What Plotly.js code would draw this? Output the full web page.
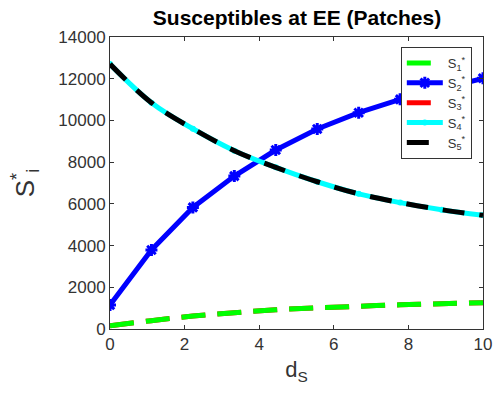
<!DOCTYPE html>
<html><head><meta charset="utf-8">
<script src="https://cdn.plot.ly/plotly-3.0.1.min.js"></script>
<style>body{margin:0;background:#fff}#c{width:495px;height:398px}</style>
</head><body><div id="c"></div>
<script>
const dS = [0, 1.111, 2.222, 3.333, 4.444, 5.556, 6.667, 7.778, 8.889, 10];
const S1 = [150, 400, 620, 780, 920, 1010, 1090, 1160, 1210, 1260];
const S2 = [1150, 3790, 5830, 7330, 8580, 9590, 10370, 11010, 11520, 12020];
const S3 = [150, 400, 620, 780, 920, 1010, 1090, 1160, 1210, 1260];
const S4 = [12700, 10850, 9600, 8550, 7750, 7060, 6480, 6060, 5720, 5450];
const S5 = [12700, 10850, 9600, 8550, 7750, 7060, 6480, 6060, 5720, 5450];
const names = ['S<sub>1</sub><sup>*</sup>','S<sub>2</sub><sup>*</sup>','S<sub>3</sub><sup>*</sup>','S<sub>4</sub><sup>*</sup>','S<sub>5</sub><sup>*</sup>'];
const FONT = 'Liberation Sans, Arial, sans-serif';

const tS1 = {x: dS, y: S1, name: names[0], legendrank: 1, mode: 'lines', line: {color: '#00ff00', width: 5, dash: '24px,12px', shape: 'spline'}};
const tS2 = {x: dS, y: S2, name: names[1], legendrank: 2, mode: 'lines+markers', line: {color: '#0000ff', width: 5},
   marker: {symbol: 'asterisk-open', size: 10, color: '#0000ff', line: {color: '#0000ff', width: 3}}};
const tS3 = {x: dS, y: S3, name: names[2], legendrank: 3, mode: 'lines', line: {color: '#ff0000', width: 5, dash: '24px,12px', shape: 'spline'}};
const tS4 = {x: dS, y: S4, name: names[3], legendrank: 4, mode: 'lines+markers', line: {color: '#00ffff', width: 5, shape: 'spline'},
   marker: {symbol: 'circle', size: 6, color: '#00ffff'}};
const tS5 = {x: dS, y: S5, name: names[4], legendrank: 5, mode: 'lines', line: {color: '#000000', width: 5, dash: '22px,15px', shape: 'spline'}};

const axisCommon = {
  showline: true, mirror: 'ticks', linecolor: '#333', linewidth: 1,
  ticks: 'inside', ticklen: 4, tickcolor: '#333', showgrid: false, zeroline: false,
  automargin: false, ticklabeloverflow: 'allow',
  tickfont: {family: FONT, size: 17, color: '#333'}
};
const layout = {
  width: 495, height: 398,
  margin: {l: 110, r: 12, t: 37, b: 69},
  paper_bgcolor: '#fff', plot_bgcolor: '#fff',
  title: {text: '<b>Susceptibles at EE (Patches)</b>', x: 0.6, xanchor: 'center', y: 0.955, yanchor: 'middle',
          font: {family: FONT, size: 21, color: '#000'}},
  xaxis: Object.assign({}, axisCommon, {range: [0, 10], tickvals: [0, 2, 4, 6, 8, 10],
    title: {text: 'd<sub>S</sub>', standoff: 8, font: {family: FONT, size: 22, color: '#333'}}}),
  yaxis: Object.assign({}, axisCommon, {range: [0, 14000], tickvals: [0,2000,4000,6000,8000,10000,12000,14000],
    tickformat: 'd',
    title: {text: 'S<sup>*</sup><sub>i</sub>', standoff: 16, font: {family: FONT, size: 26, color: '#333'}}}),
  showlegend: true,
  legend: {x: 0.97, xanchor: 'right', y: 0.966, yanchor: 'top', bgcolor: '#fff', bordercolor: '#333', borderwidth: 1,
    font: {family: FONT, size: 13, color: '#333'}, tracegroupgap: 0, itemwidth: 36}
};
Plotly.newPlot('c', [tS3, tS1, tS2, tS4, tS5], layout, {displayModeBar: false, staticPlot: true});
</script></body></html>
